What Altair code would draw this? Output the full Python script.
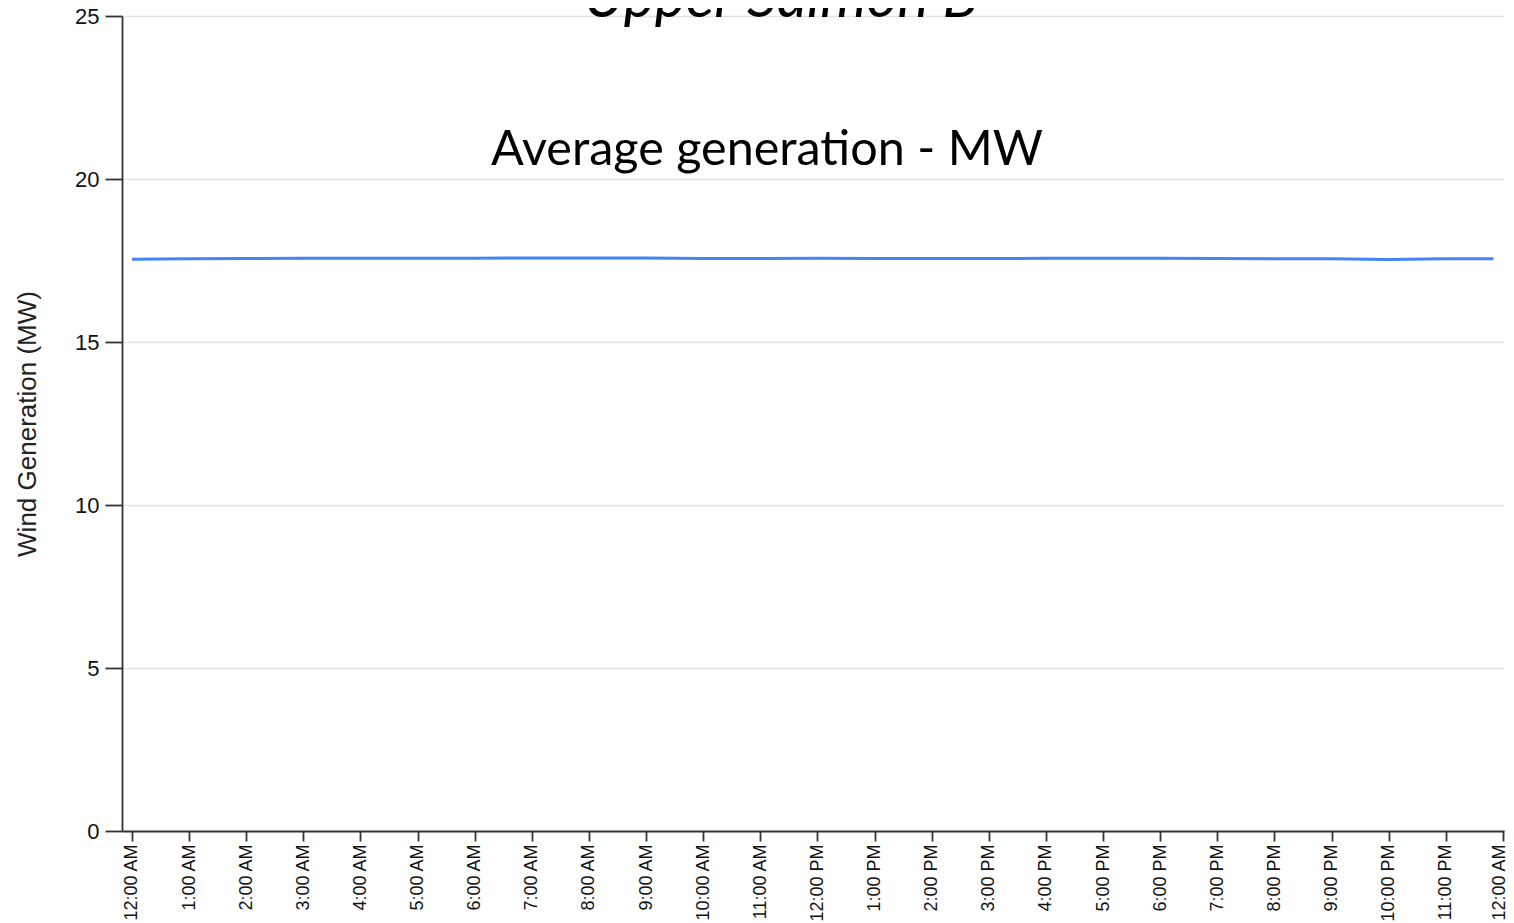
import altair as alt
import pandas as pd

# ---- data ----
hours = [0, 1, 2, 3, 4, 5, 6, 7, 8, 9, 10, 11, 12, 13, 14, 15, 16, 17, 18, 19, 20, 21, 22, 23, 23.8333]
gen_mw = [17.54, 17.55, 17.56, 17.57, 17.57, 17.57, 17.57, 17.58, 17.58, 17.58, 17.56, 17.56,
          17.57, 17.56, 17.56, 17.56, 17.57, 17.57, 17.57, 17.56, 17.55, 17.55, 17.53, 17.55, 17.55]
y_ticks = [0, 5, 10, 15, 20, 25]
tick_hours = list(range(0, 25))
title_text = "Upper Salmon B"
subtitle_text = "Average generation - MW"
y_title = "Wind Generation (MW)"

BASE = 1704067200000  # 2024-01-01T00:00:00Z in ms
HOUR = 3600000

df = pd.DataFrame({"t": [BASE + int(h * HOUR) for h in hours], "mw": gen_mw})
tick_values = [BASE + h * HOUR for h in tick_hours]
x_domain = [BASE - 630000, BASE + 24 * HOUR + 63000]
last_tick = BASE + 24 * HOUR

W, H = 1382, 815

line = alt.Chart(df).mark_line(color="#4285f4", strokeWidth=3).encode(
    x=alt.X("t:T",
            scale=alt.Scale(type="utc", domain=x_domain),
            axis=alt.Axis(values=tick_values,
                          labelExpr="utcFormat(datum.value, '%-I:%M %p')",
                          labelAngle=270, labelFontSize=18, tickSize=10, labelPadding=3,
                          labelOffset={"condition": {"test": f"datum.value >= {last_tick}", "value": -4},
                                       "value": 0},
                          grid=False, title=None, labelOverlap=False, labelBound=False)),
    y=alt.Y("mw:Q",
            scale=alt.Scale(domain=[0, 25], nice=False, zero=True),
            axis=alt.Axis(values=y_ticks, labelFontSize=22, tickSize=17, labelPadding=6,
                          grid=True, gridColor="#e3e3e3", gridWidth=1.5,
                          title=y_title, titleFontSize=26, titleFontWeight="normal",
                          titleColor="#222222", titleAngle=270, titleX=-95,
                          titleBaseline="middle", titleAlign="center")),
)

title = alt.Chart(pd.DataFrame({"label": [title_text]})).mark_text(
    font="Lato", fontSize=59, fontStyle="italic", align="center", baseline="alphabetic",
    color="#000000"
).encode(text="label:N", x=alt.value(659), y=alt.value(1))

subtitle = alt.Chart(pd.DataFrame({"label": [subtitle_text]})).mark_text(
    font="Lato", fontSize=48.5, align="center", baseline="alphabetic", color="#000000"
).encode(text="label:N", x=alt.value(645), y=alt.value(149))

chart = alt.layer(line, title, subtitle).properties(
    width=W, height=H,
    autosize=alt.AutoSizeParams(type="none"),
    padding={"left": 114, "top": 8, "right": 2, "bottom": 95},
).configure_axis(
    labelFont="Liberation Sans", titleFont="Liberation Sans",
    labelColor="#111111", domainColor="#333333", tickColor="#333333",
    domainWidth=1.8, tickWidth=1.8,
).configure_view(strokeWidth=0)

chart.save("out.html", embed_options={"renderer": "svg", "actions": False})
